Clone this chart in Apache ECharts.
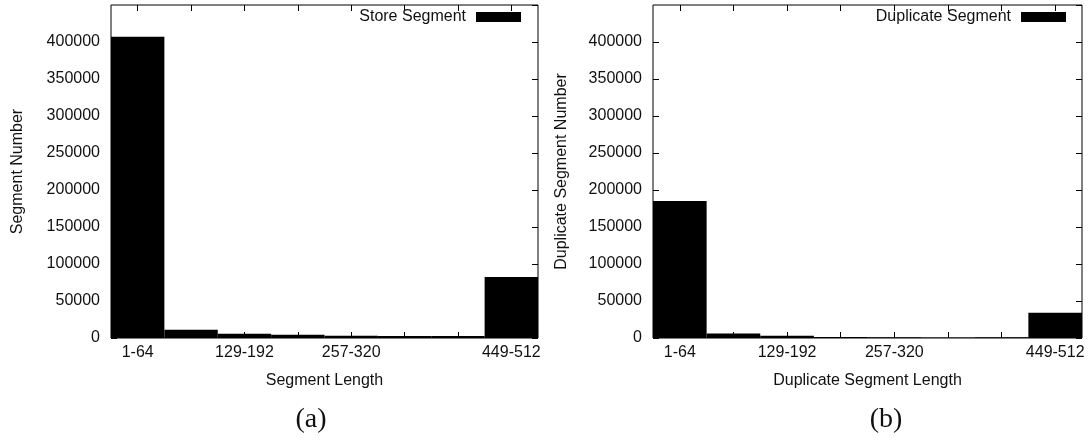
<!DOCTYPE html>
<html>
<head>
<meta charset="utf-8">
<script src="https://cdn.jsdelivr.net/npm/echarts@6/dist/echarts.min.js"></script>
<style>
  html, body { margin: 0; padding: 0; background: #fff; }
  #chart { width: 1091px; height: 440px; }
</style>
</head>
<body>
<div id="chart"></div>
<script>
// Segment-length buckets (bytes)
const lengthBuckets = ['1-64', '65-128', '129-192', '193-256', '257-320', '321-384', '385-448', '449-512'];
// Buckets that carry a printed tick label
const labeledBuckets = ['1-64', '129-192', '257-320', '449-512'];

// Number of stored segments per length bucket
const storeSegments = [407000, 11000, 5800, 4300, 3000, 2800, 2600, 82500];
// Number of duplicate segments per length bucket
const duplicateSegments = [185000, 6000, 3000, 1300, 1000, 800, 900, 34000];

// Shared count axis
const countMin = 0;
const countMax = 450000;
const countStep = 50000;

const FONT = '"Liberation Sans", Arial, Helvetica, sans-serif';
const INK = '#111';
const FS = 16;

const chart = echarts.init(document.getElementById('chart'), null, { renderer: 'canvas' });

const tickStyle = { show: true, inside: true, length: 6, lineStyle: { color: '#000', width: 1 } };

function bottomAxis(gridIndex, name) {
  return {
    type: 'category', gridIndex, position: 'bottom', data: lengthBuckets,
    name, nameLocation: 'middle', nameGap: 35,
    nameTextStyle: { fontFamily: FONT, fontSize: FS, color: INK },
    axisLine: { show: false, onZero: false },
    axisTick: Object.assign({ alignWithLabel: true, interval: 0 }, tickStyle),
    axisLabel: {
      interval: 0, margin: 7, fontFamily: FONT, fontSize: FS, color: INK,
      formatter: v => labeledBuckets.includes(v) ? v : ''
    },
    splitLine: { show: false }
  };
}
function topAxis(gridIndex) {
  return {
    type: 'category', gridIndex, position: 'top', data: lengthBuckets,
    axisLine: { show: false, onZero: false },
    axisTick: Object.assign({ alignWithLabel: true, interval: 0 }, tickStyle),
    axisLabel: { show: false },
    splitLine: { show: false }
  };
}
function leftAxis(gridIndex, name, gap) {
  return {
    type: 'value', gridIndex, position: 'left',
    min: countMin, max: countMax, interval: countStep,
    name, nameLocation: 'middle', nameGap: gap,
    nameTextStyle: { fontFamily: FONT, fontSize: FS, color: INK },
    axisLine: { show: false, onZero: false },
    axisTick: tickStyle,
    axisLabel: { showMaxLabel: false, margin: 11, fontFamily: FONT, fontSize: FS, color: INK, formatter: v => String(v) },
    splitLine: { show: false }
  };
}
function rightAxis(gridIndex) {
  return {
    type: 'value', gridIndex, position: 'right',
    min: countMin, max: countMax, interval: countStep,
    axisLine: { show: false, onZero: false },
    axisTick: tickStyle,
    axisLabel: { show: false },
    splitLine: { show: false }
  };
}

const legendBase = {
  orient: 'horizontal', align: 'right', icon: 'rect',
  itemWidth: 45, itemHeight: 10, padding: 0, top: 9,
  selectedMode: false,
  textStyle: { fontFamily: FONT, fontSize: FS, color: INK, padding: [0, 5, 0, 0] }
};

chart.setOption({
  animation: false,
  backgroundColor: '#fff',
  grid: [
    { left: 111, top: 5, width: 427, height: 333, show: true, borderColor: '#000', borderWidth: 1, backgroundColor: 'transparent' },
    { left: 653, top: 5, width: 429, height: 333, show: true, borderColor: '#000', borderWidth: 1, backgroundColor: 'transparent' }
  ],
  xAxis: [
    bottomAxis(0, 'Segment Length'),
    bottomAxis(1, 'Duplicate Segment Length'),
    topAxis(0),
    topAxis(1)
  ],
  yAxis: [
    leftAxis(0, 'Segment Number', 85),
    leftAxis(1, 'Duplicate Segment Number', 83),
    rightAxis(0),
    rightAxis(1)
  ],
  legend: [
    Object.assign({}, legendBase, { data: ['Store Segment'], right: 570 }),
    Object.assign({}, legendBase, { data: ['Duplicate Segment'], right: 25 })
  ],
  title: [
    { text: '(a)', left: 306, top: 401, textAlign: 'center',
      textStyle: { fontFamily: '"Liberation Serif", "DejaVu Serif", serif', fontWeight: 'normal', fontSize: 28, color: INK } },
    { text: '(b)', left: 881, top: 401, textAlign: 'center',
      textStyle: { fontFamily: '"Liberation Serif", "DejaVu Serif", serif', fontWeight: 'normal', fontSize: 28, color: INK } }
  ],
  series: [
    {
      name: 'Store Segment', type: 'bar', xAxisIndex: 0, yAxisIndex: 0,
      data: storeSegments, barCategoryGap: '0%', barGap: '0%',
      itemStyle: { color: '#000' }, emphasis: { disabled: true }
    },
    {
      name: 'Duplicate Segment', type: 'bar', xAxisIndex: 1, yAxisIndex: 1,
      data: duplicateSegments, barCategoryGap: '0%', barGap: '0%',
      itemStyle: { color: '#000' }, emphasis: { disabled: true }
    }
  ]
});
</script>
</body>
</html>
